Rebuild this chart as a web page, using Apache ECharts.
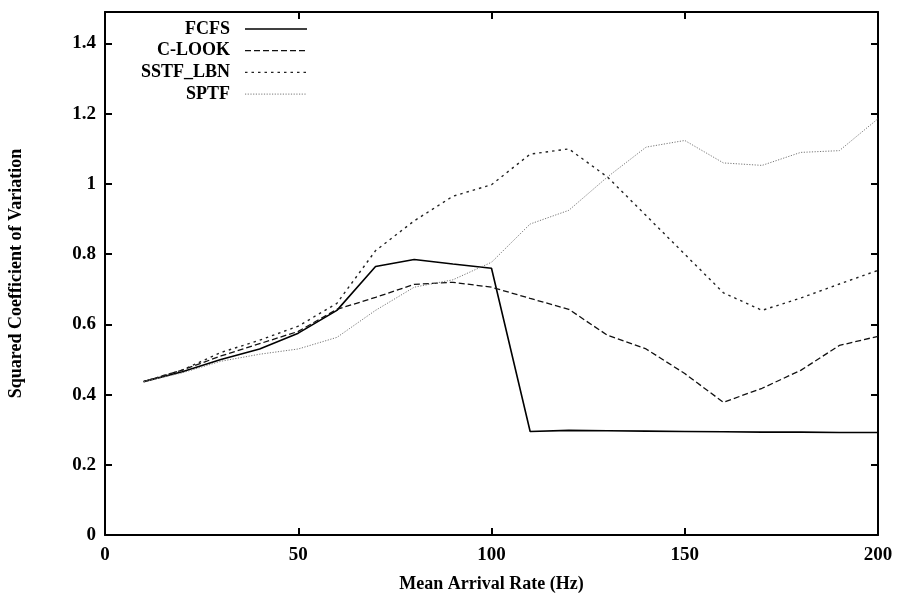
<!DOCTYPE html>
<html><head><meta charset="utf-8">
<script src="https://cdn.jsdelivr.net/npm/echarts@6/dist/echarts.min.js"></script>
<style>html,body{margin:0;padding:0;background:#fff}#c{width:898px;height:601px}</style>
</head><body><div id="c"></div>
<script>
const rates = [10,20,30,40,50,60,70,80,90,100,110,120,130,140,150,160,170,180,190,200];
const fcfs  = [0.437,0.465,0.50,0.53,0.575,0.64,0.765,0.785,0.772,0.76,0.295,0.298,0.297,0.296,0.295,0.294,0.293,0.293,0.292,0.292];
const clook = [0.437,0.47,0.51,0.545,0.58,0.643,0.677,0.714,0.72,0.706,0.674,0.643,0.569,0.53,0.46,0.378,0.418,0.469,0.54,0.566];
const sstf  = [0.437,0.47,0.52,0.555,0.595,0.66,0.81,0.895,0.965,0.998,1.085,1.10,1.02,0.91,0.80,0.69,0.64,0.675,0.715,0.754];
const sptf  = [0.437,0.462,0.495,0.515,0.53,0.563,0.64,0.706,0.727,0.777,0.886,0.925,1.02,1.105,1.124,1.06,1.053,1.09,1.095,1.186];
const seriesNames = ['FCFS','C-LOOK','SSTF_LBN','SPTF'];
const xTicks = [0,50,100,150,200];
const yTicks = [0,0.2,0.4,0.6,0.8,1,1.2,1.4];

const font = '"Liberation Serif", "DejaVu Serif", serif';
const chart = echarts.init(document.getElementById('c'));
const pair = arr => rates.map((r,i)=>[r,arr[i]]);
const styles = [
  {color:'#000', width:1.6, type:'solid'},
  {color:'#111', width:1.3, type:[6,3]},
  {color:'#222', width:1.4, type:[2.5,4]},
  {color:'#777', width:1.0, type:[1.2,1.5]}
];
const datasets = [fcfs, clook, sstf, sptf];
const axisLine = {show:true, onZero:false, lineStyle:{color:'#000', width:2}};
const tick = {inside:true, length:7, lineStyle:{color:'#000', width:2}};
const graphics = [];
seriesNames.forEach((n,i)=>{
  const y = 29 + i*21.7;
  graphics.push({type:'text', x:230, y:y, style:{text:n, font:'bold 18px '+font, fill:'#000', align:'right', verticalAlign:'middle'}});
  graphics.push({type:'line', shape:{x1:245, y1:y, x2:307, y2:y},
    style:{stroke:styles[i].color, lineWidth:styles[i].width, lineDash:styles[i].type==='solid'?null:styles[i].type}});
});
chart.setOption({
  animation:false,
  backgroundColor:'#fff',
  grid:{left:105, right:20, top:12, bottom:66, containLabel:false, outerBoundsMode:'none'},
  xAxis:[{
    type:'value', min:0, max:200, interval:50,
    name:'Mean Arrival Rate (Hz)', nameLocation:'middle', nameGap:40,
    nameTextStyle:{fontFamily:font, fontWeight:'bold', fontSize:18, color:'#000'},
    axisLine:axisLine, axisTick:tick,
    axisLabel:{fontFamily:font, fontWeight:'bold', fontSize:19, color:'#000', margin:11,
      formatter:v=>xTicks.includes(v)?String(v):''},
    splitLine:{show:false}
  },{
    type:'value', min:0, max:200, interval:50, position:'top',
    axisLine:axisLine, axisTick:tick,
    axisLabel:{show:false}, splitLine:{show:false}
  }],
  yAxis:[{
    type:'value', min:0, max:1.49, interval:0.2,
    name:'Squared Coefficient of Variation', nameLocation:'middle', nameGap:80, nameRotate:90,
    nameTextStyle:{fontFamily:font, fontWeight:'bold', fontSize:18, color:'#000'},
    axisLine:axisLine, axisTick:tick,
    axisLabel:{fontFamily:font, fontWeight:'bold', fontSize:19, color:'#000', margin:9, showMaxLabel:false,
      formatter:v=>{const t=yTicks.find(y=>Math.abs(y-v)<1e-6); return t===undefined?'':String(t);}},
    splitLine:{show:false}
  },{
    type:'value', min:0, max:1.49, interval:0.2, position:'right',
    axisLine:axisLine, axisTick:tick,
    axisLabel:{show:false}, splitLine:{show:false}
  }],
  series: datasets.map((d,i)=>({
    name:seriesNames[i], type:'line', data:pair(d), showSymbol:false, symbol:'none',
    xAxisIndex:0, yAxisIndex:0,
    lineStyle:styles[i]
  })),
  graphic: graphics
});
</script></body></html>
